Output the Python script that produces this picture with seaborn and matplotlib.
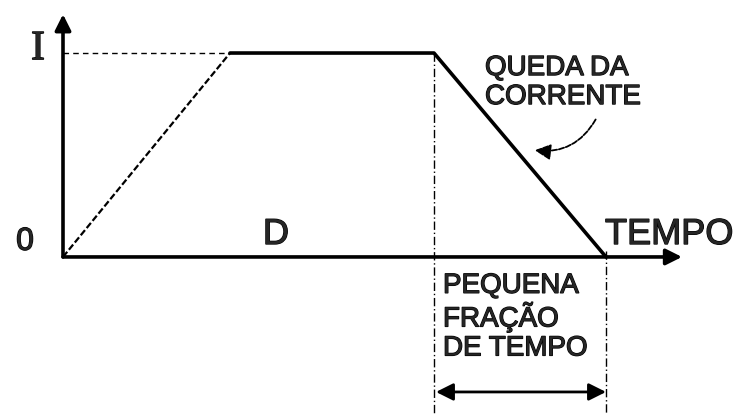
import matplotlib
matplotlib.use("Agg")
import matplotlib.pyplot as plt
import matplotlib.patheffects as pe
import seaborn as sns
import pandas as pd
from matplotlib.patches import FancyArrowPatch

# ---- data ----
time_pts = [0.0, 1.67, 3.71, 5.43]      # ramp start, ramp end, plateau end, fall end
current = [0.0, 1.0, 1.0, 0.0]
axis_labels = ["I", "0", "TEMPO"]
region_label = "D"
fall_label = "QUEDA DA\nCORRENTE"
fraction_label = "PEQUENA\nFRAÇÃO\nDE TEMPO"

sns.set_style("white")
plt.rcParams['font.family'] = ['Liberation Sans', 'DejaVu Sans']

fig = plt.figure(figsize=(7.38, 4.15), dpi=100)
ax = fig.add_axes([0, 0, 1, 1])
ax.set_xlim(-0.63, 6.75)
ax.set_ylim(-0.775, 1.26)
ax.axis("off")

df = pd.DataFrame({"t": time_pts, "i": current})
ramp = df.iloc[0:2]
solid = df.iloc[1:4]

# dashed ramp
sns.lineplot(data=ramp, x="t", y="i", ax=ax, sort=False, color="black",
             lw=1.6, linestyle=(0, (3, 1.2)))
# solid plateau + fall
sns.lineplot(data=solid, x="t", y="i", ax=ax, sort=False, color="black", lw=2.6)

# dashed reference line at I
ax.plot([0, time_pts[1]], [current[1], current[1]], color="black", lw=1.0,
        linestyle=(0, (4, 3)))

# vertical dash-dot lines
ax.plot([time_pts[2], time_pts[2]], [current[2], -0.775], color="black",
        lw=1.0, linestyle=(0, (6, 2, 1, 2)))
ax.plot([time_pts[3], time_pts[3]], [0.03, -0.775], color="black",
        lw=1.0, linestyle=(0, (6, 2, 1, 2)))

# axes with arrows
ax.annotate("", xy=(0, 1.19), xytext=(0, 0),
            arrowprops=dict(arrowstyle="-|>", lw=2.6, color="black",
                            mutation_scale=24, shrinkA=0, shrinkB=0))
ax.annotate("", xy=(6.19, 0), xytext=(0, 0),
            arrowprops=dict(arrowstyle="-|>", lw=2.6, color="black",
                            mutation_scale=24, shrinkA=0, shrinkB=0))

# double arrow for the small time fraction
ax.annotate("", xy=(time_pts[3], -0.662), xytext=(time_pts[2] + 0.02, -0.662),
            arrowprops=dict(arrowstyle="<|-|>", lw=2.0, color="black",
                            mutation_scale=26, shrinkA=0, shrinkB=0))

# curved pointer arrow
arr = FancyArrowPatch((5.34, 0.686), (4.69, 0.525),
                      connectionstyle="arc3,rad=-0.35",
                      arrowstyle="-|>", mutation_scale=24, lw=1.3,
                      color="black", linestyle=(0, (3, 1)))
ax.add_patch(arr)

# text
stroke = [pe.withStroke(linewidth=0.9, foreground="black")]
ax.text(-0.25, 1.02, axis_labels[0], fontsize=30, family="Liberation Serif",
        ha="center", va="center", path_effects=stroke)
ax.text(-0.38, 0.074, axis_labels[1], fontsize=23, ha="center", va="center",
        path_effects=stroke)
ax.text(5.42, 0.11, axis_labels[2], fontsize=26, ha="left", va="center",
        path_effects=stroke)
ax.text(2.13, 0.11, region_label, fontsize=26, ha="center", va="center",
        path_effects=stroke)
ax.text(4.22, 0.99, fall_label, fontsize=20, ha="left", va="top",
        linespacing=1.15, path_effects=stroke)
ax.text(3.80, -0.078, fraction_label, fontsize=20, ha="left", va="top",
        linespacing=1.15, path_effects=stroke)

fig.savefig("out.png", dpi=100)
